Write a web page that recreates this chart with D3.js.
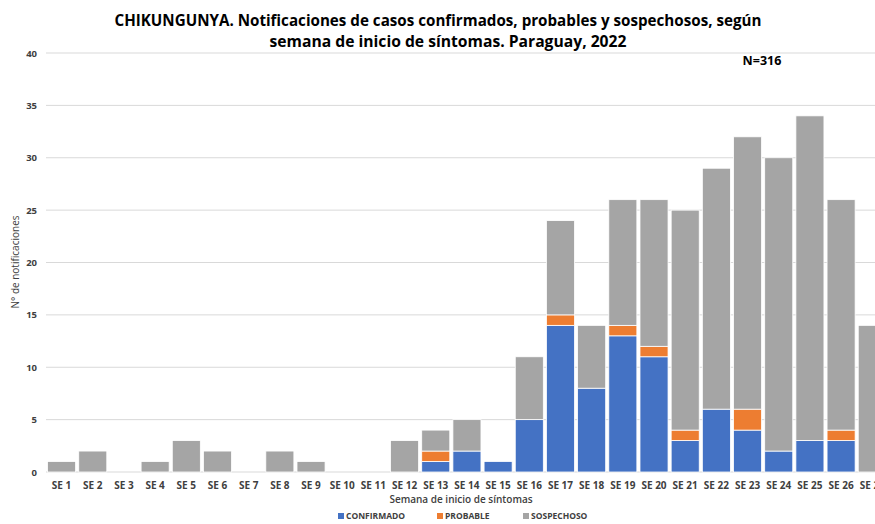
<!DOCTYPE html>
<html><head><meta charset="utf-8">
<script src="https://cdn.jsdelivr.net/npm/d3@7"></script>
<style>body{margin:0;background:#fff;overflow:hidden}svg{display:block;font-family:"Open Sans",sans-serif}</style>
</head><body><svg id="c" width="875" height="524"></svg>
<script>
const weeks = ["SE 1","SE 2","SE 3","SE 4","SE 5","SE 6","SE 7","SE 8","SE 9","SE 10","SE 11","SE 12","SE 13","SE 14","SE 15","SE 16","SE 17","SE 18","SE 19","SE 20","SE 21","SE 22","SE 23","SE 24","SE 25","SE 26","SE 27"];
const confirmado = [0,0,0,0,0,0,0,0,0,0,0,0,1,2,1,5,14,8,13,11,3,6,4,2,3,3,0];
const probable   = [0,0,0,0,0,0,0,0,0,0,0,0,1,0,0,0,1,0,1,1,1,0,2,0,0,1,0];
const sospechoso = [1,2,0,1,3,2,0,2,1,0,0,3,2,3,0,6,9,6,12,14,21,23,26,28,31,22,14];
const seriesNames = ["CONFIRMADO","PROBABLE","SOSPECHOSO"];
const colors = ["#4472C4","#ED7D31","#A5A5A5"];
const yTicks = [0,5,10,15,20,25,30,35,40];

const svg = d3.select("#c");
const rows = weeks.map((w,i)=>({w, CONFIRMADO:confirmado[i], PROBABLE:probable[i], SOSPECHOSO:sospechoso[i]}));
const stack = d3.stack().keys(seriesNames)(rows);

const x = d3.scaleBand().domain(weeks).range([46, 46+27*31.18]).paddingInner(0.1).paddingOuter(0.05);
const y = d3.scaleLinear().domain([0,40]).range([472,53]);

// gridlines
svg.append("g").selectAll("line").data(yTicks).join("line")
  .attr("x1",46).attr("x2",875).attr("y1",d=>y(d)).attr("y2",d=>y(d))
  .attr("stroke","#d9d9d9").attr("stroke-width",1);

// y tick labels
svg.append("g").selectAll("text").data(yTicks).join("text")
  .attr("x",37).attr("y",d=>y(d)+3.5).attr("text-anchor","end")
  .attr("font-size",9.5).attr("font-weight",700).attr("fill","#404040").text(d=>d);

// bars
const colorOf = d3.scaleOrdinal().domain(seriesNames).range(colors);
svg.append("g").selectAll("g").data(stack).join("g").attr("fill",s=>colorOf(s.key))
  .selectAll("rect").data(s=>s).join("rect")
  .attr("x",d=>x(d.data.w)).attr("width",x.bandwidth())
  .attr("y",d=>y(d[1])).attr("height",d=>y(d[0])-y(d[1]))
  .attr("stroke","#fff").attr("stroke-width",0.8);

// x tick labels
svg.append("g").selectAll("text").data(weeks).join("text")
  .attr("x",d=>x(d)+x.bandwidth()/2).attr("y",489).attr("text-anchor","middle")
  .attr("font-size",10).attr("font-weight",700).attr("fill","#404040").text(d=>d);

// axis titles
svg.append("text").attr("x",461).attr("y",503).attr("text-anchor","middle")
  .attr("font-size",10).attr("font-weight",600).attr("fill","#404040").text("Semana de inicio de síntomas");
svg.append("text").attr("transform","translate(19,262) rotate(-90)").attr("text-anchor","middle")
  .attr("font-size",10).attr("fill","#404040").text("N° de notificaciones");

// title
svg.append("text").attr("x",438).attr("y",26).attr("text-anchor","middle")
  .attr("font-size",15.5).attr("font-weight",700).attr("fill","#000").attr("textLength",647).attr("lengthAdjust","spacingAndGlyphs")
  .text("CHIKUNGUNYA. Notificaciones de casos confirmados, probables y sospechosos, según");
svg.append("text").attr("x",448).attr("y",47).attr("text-anchor","middle")
  .attr("font-size",15.5).attr("font-weight",700).attr("fill","#000").attr("textLength",357).attr("lengthAdjust","spacingAndGlyphs")
  .text("semana de inicio de síntomas. Paraguay, 2022");
svg.append("text").attr("x",762).attr("y",65).attr("text-anchor","middle")
  .attr("font-size",12.5).attr("font-weight",700).attr("fill","#000").text("N=316");

// legend
const legX = [338,437,523];
const lg = svg.append("g").selectAll("g").data(seriesNames).join("g")
  .attr("transform",(d,i)=>`translate(${legX[i]},519)`);
lg.append("rect").attr("x",0).attr("y",-6).attr("width",6).attr("height",6).attr("fill",d=>colorOf(d));
lg.append("text").attr("x",8).attr("y",0).attr("font-size",8.5).attr("font-weight",700).attr("fill","#404040").text(d=>d);
</script></body></html>
